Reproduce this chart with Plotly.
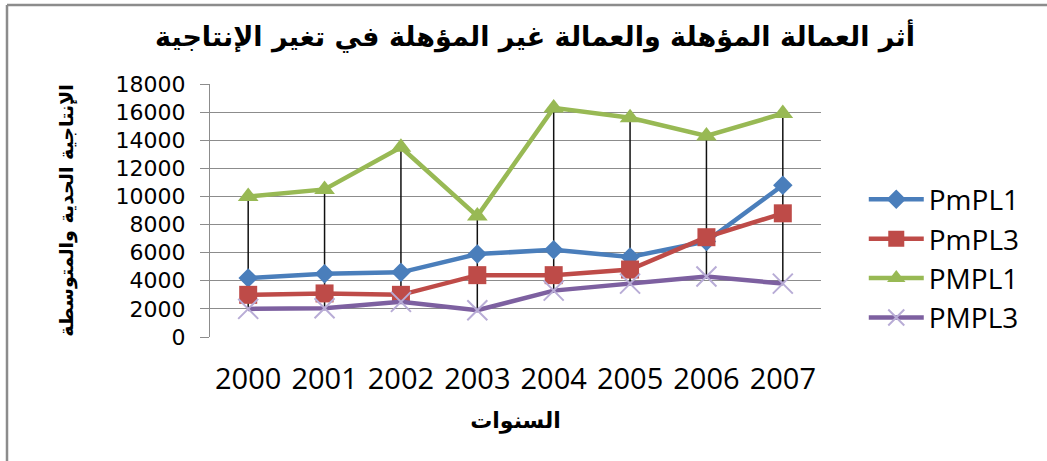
import plotly.graph_objects as go

years = ["2000", "2001", "2002", "2003", "2004", "2005", "2006", "2007"]
pmpl1 = [4200, 4500, 4600, 5900, 6200, 5700, 6800, 10800]
pmpl3 = [3000, 3100, 3000, 4400, 4400, 4800, 7100, 8800]
PMPL1 = [10000, 10500, 13500, 8600, 16300, 15600, 14300, 15900]
PMPL3 = [2000, 2050, 2500, 1900, 3300, 3800, 4300, 3800]

title_text = "أثر العمالة المؤهلة والعمالة غير المؤهلة في تغير الإنتاجية"
x_title = "السنوات"
y_title = "الإنتاجية الحدية والمتوسطة"

series = [
    ("PmPL1", pmpl1, "#4A7EBB", dict(symbol="diamond", size=15, color="#4A7EBB")),
    ("PmPL3", pmpl3, "#BE4B48", dict(symbol="square", size=18, color="#BE4B48")),
    ("PMPL1", PMPL1, "#98B954", dict(symbol="triangle-up", size=18, color="#98B954")),
    ("PMPL3", PMPL3, "#7D60A0", dict(symbol="x-thin-open", size=20, color="#B8ACD6",
                                      line=dict(width=2, color="#B8ACD6"))),
]

fig = go.Figure()

# high-low lines
hx, hy = [], []
for i, yr in enumerate(years):
    vals = [pmpl1[i], pmpl3[i], PMPL1[i], PMPL3[i]]
    hx += [yr, yr, None]
    hy += [max(vals), min(vals), None]
fig.add_trace(go.Scatter(x=hx, y=hy, mode="lines", line=dict(color="#111111", width=1.5),
                         showlegend=False, hoverinfo="skip"))

for name, vals, col, mk in series:
    fig.add_trace(go.Scatter(x=years, y=vals, name=name, mode="lines+markers",
                             legendgroup=name,
                             line=dict(color=col, width=4.5), marker=mk))

fig.update_layout(
    width=1047, height=461,
    margin=dict(l=210, r=226, t=84, b=124),
    paper_bgcolor="white", plot_bgcolor="white",
    title=dict(text=title_text, x=0.511, xanchor="center", y=0.92, yanchor="middle",
               font=dict(family="DejaVu Sans", size=27, color="#000000", weight="bold")),
    legend=dict(x=1.07, y=0.31, xanchor="left", yanchor="middle",
                font=dict(family="Open Sans", size=28, color="#000000"),
                tracegroupgap=0, itemwidth=55, bgcolor="rgba(0,0,0,0)"),
    showlegend=True,
)

fig.update_xaxes(
    type="category", range=[-0.5, 7.5], showgrid=False, zeroline=False,
    showline=False, ticks="", automargin=False, ticklabelstandoff=22,
    tickfont=dict(family="Open Sans", size=29, color="#000000"),
    title=dict(text=x_title, font=dict(family="DejaVu Sans", size=22, color="#000000", weight="bold"),
               standoff=16),
)
fig.update_yaxes(
    range=[0, 18000], dtick=2000, tickformat="d", showgrid=True, gridcolor="#8C8C8C", gridwidth=1,
    zeroline=False, showline=True, linecolor="#8C8C8C", linewidth=1,
    ticks="outside", ticklen=9, tickcolor="#8C8C8C", automargin=False, ticklabelstandoff=10,
    tickfont=dict(family="DejaVu Sans", size=22, color="#000000"),
    title=dict(text=y_title, font=dict(family="DejaVu Sans", size=19, color="#000000", weight="bold"),
               standoff=36),
)

# outer frame (left and top edges of the original chart box)
fig.add_shape(type="line", xref="paper", yref="paper",
              x0=(7 - 210) / 611, x1=(7 - 210) / 611, y0=(337 - 461) / 253, y1=(337 - 5) / 253,
              line=dict(color="#8C8C8C", width=2.5))
fig.add_shape(type="line", xref="paper", yref="paper",
              x0=(7 - 210) / 611, x1=(1047 - 210) / 611, y0=(337 - 5) / 253, y1=(337 - 5) / 253,
              line=dict(color="#8C8C8C", width=2.5))

fig.write_html("out.html", config={"displayModeBar": False},
               post_script="document.body.style.margin='0';")
